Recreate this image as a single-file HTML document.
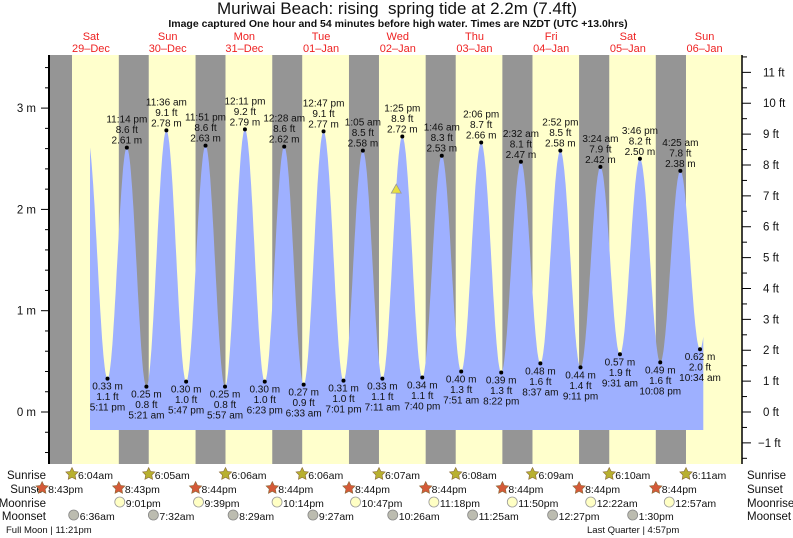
<!DOCTYPE html>
<html><head><meta charset="utf-8"><style>
html,body{margin:0;padding:0;background:#fff;width:793px;height:538px;overflow:hidden}
svg{display:block;font-family:"Liberation Sans",sans-serif}
</style></head><body>
<svg id="chart" width="793" height="538" viewBox="0 0 793 538" xmlns="http://www.w3.org/2000/svg">
<text x="397" y="14" font-size="17" text-anchor="middle" fill="#111">Muriwai Beach: rising&#160; spring tide at 2.2m (7.4ft)</text>
<text x="398" y="27" font-size="10.5" font-weight="bold" text-anchor="middle" fill="#111">Image captured One hour and 54 minutes before high water. Times are NZDT (UTC +13.0hrs)</text>
<g id="bg"></g><g id="fill"></g><g id="axes"></g><g id="labels"></g><g id="bottom"></g>
</svg>
<script>
// ---- data ----
const extremeTimes = [10.83,17.18,23.23,29.35,35.6,41.78,47.85,53.95,60.18,66.38,72.47,78.55,84.78,91.02,97.08,103.18,109.42,115.67,121.77,127.85,134.1,140.37,146.53,152.62,158.87,165.18,171.4,177.52,183.77,190.13,196.42,202.57,208.8];
const extremeHeights = [2.72,0.33,2.61,0.25,2.78,0.30,2.63,0.25,2.79,0.30,2.62,0.27,2.77,0.31,2.58,0.33,2.72,0.34,2.53,0.40,2.66,0.39,2.47,0.48,2.58,0.44,2.42,0.57,2.50,0.49,2.38,0.62,2.5];
const extremeLabels = ["","5:11 pm","11:14 pm","5:21 am","11:36 am","5:47 pm","11:51 pm","5:57 am","12:11 pm","6:23 pm","12:28 am","6:33 am","12:47 pm","7:01 pm","1:05 am","7:11 am","1:25 pm","7:40 pm","1:46 am","7:51 am","2:06 pm","8:22 pm","2:32 am","8:37 am","2:52 pm","9:11 pm","3:24 am","9:31 am","3:46 pm","10:08 pm","4:25 am","10:34 am",""];
const dayNames = ["Sat","Sun","Mon","Tue","Wed","Thu","Fri","Sat","Sun"];
const dayDates = ["29\u2013Dec","30\u2013Dec","31\u2013Dec","01\u2013Jan","02\u2013Jan","03\u2013Jan","04\u2013Jan","05\u2013Jan","06\u2013Jan"];
const sunriseTimes = [6.07,30.08,54.1,78.1,102.12,126.13,150.15,174.17,198.18];
const sunriseLabels = ["6:04am","6:05am","6:06am","6:06am","6:07am","6:08am","6:09am","6:10am","6:11am"];
const sunsetTimes = [-3.28,20.72,44.73,68.73,92.73,116.73,140.73,164.73,188.73];
const sunsetLabels = ["8:43pm","8:43pm","8:44pm","8:44pm","8:44pm","8:44pm","8:44pm","8:44pm","8:44pm"];
const moonriseTimes = [21.02,45.65,70.23,94.78,119.3,143.83,168.37,192.95];
const moonriseLabels = ["9:01pm","9:39pm","10:14pm","10:47pm","11:18pm","11:50pm","12:22am","12:57am"];
const moonsetTimes = [6.6,31.53,56.48,81.45,106.43,131.42,156.45,181.5];
const moonsetLabels = ["6:36am","7:32am","8:29am","9:27am","10:26am","11:25am","12:27pm","1:30pm"];
const mTicks = [0,1,2,3];
const ftTicks = [-1,0,1,2,3,4,5,6,7,8,9,10,11];
const nowTime = 107.52, nowHeight = 2.2;
const fillStart = 11.7, fillEnd = 203.6;

// ---- scales ----
const X0=49, X1=742, Y0=55, Y1=464, FILLBOT=430;
const xs = t => 52.6 + t*3.196;
const ys = h => 412 - h*101.3;
const NS="http://www.w3.org/2000/svg";
function mk(tag, parent, attrs){const e=document.createElementNS(NS,tag);for(const k in attrs)e.setAttribute(k,attrs[k]);document.getElementById(parent).appendChild(e);return e;}
function txt(parent,x,y,s,size,anchor,fill,extra){const e=mk('text',parent,Object.assign({x:x,y:y,'font-size':size,'text-anchor':anchor||'start',fill:fill||'#111'},extra||{}));e.textContent=s;return e;}

// background
let r=mk('rect','bg',{x:X0,y:Y0,width:X1-X0,height:Y1-Y0,fill:'#ffffcc'});


for(let i=0;i<sunsetTimes.length;i++){
  const a=Math.max(X0,xs(sunsetTimes[i])), b=Math.min(X1,xs(sunriseTimes[i]));
  if(b>a){const n=mk('rect','bg',{x:a,y:Y0,width:b-a,height:Y1-Y0,fill:'#959595'});
  
  }
}
// tide curve
function tide(t){
  for(let i=0;i<extremeTimes.length-1;i++){
    if(t>=extremeTimes[i]&&t<=extremeTimes[i+1]){
      const f=(t-extremeTimes[i])/(extremeTimes[i+1]-extremeTimes[i]);
      return extremeHeights[i]+(extremeHeights[i+1]-extremeHeights[i])*(1-Math.cos(Math.PI*f))/2;
    }
  }
  return extremeHeights[0];
}
let d='M'+xs(fillStart).toFixed(1)+','+FILLBOT;
for(let t=fillStart;t<=fillEnd+0.001;t+=0.2){d+=' L'+xs(t).toFixed(1)+','+ys(tide(t)).toFixed(1);}
d+=' L'+xs(fillEnd).toFixed(1)+','+ys(tide(fillEnd)).toFixed(1)+' L'+xs(fillEnd).toFixed(1)+','+FILLBOT+' Z';
const p=mk('path','fill',{d:d,fill:'#9eb0ff'});



// axes
const la=mk('line','axes',{x1:X0,y1:Y0,x2:X0,y2:Y1,stroke:'#000','stroke-width':2});


const ra=mk('line','axes',{x1:X1,y1:Y0,x2:X1,y2:Y1,stroke:'#000','stroke-width':1.5});


for(let h=-0.4;h<=3.41;h+=0.2){
  const y=ys(h); if(y<Y0||y>Y1)continue;
  const major=Math.abs(h-Math.round(h))<0.01;
  mk('line','axes',{x1:major?41:45,y1:y,x2:X0,y2:y,stroke:'#000','stroke-width':1});
}
mTicks.forEach(m=>{const t=txt('axes',36,ys(m)+4,m+' m',11.5,'end','#111');
  
  });
for(let f=-1.5;f<=11.6;f+=0.5){
  const y=ys(f*0.3048); if(y<Y0||y>Y1)continue;
  const major=Math.abs(f-Math.round(f))<0.01;
  mk('line','axes',{x1:X1,y1:y,x2:X1+(major?9:5),y2:y,stroke:'#000','stroke-width':1});
}
ftTicks.forEach(f=>{const t=txt('axes',f<0?758:763,ys(f*0.3048)+4,(f<0?'\u22121':f)+' ft',11.5,'start','#111');
  
  });

// day labels
dayNames.forEach((n,i)=>{
  const cx=xs(i*24+12);
  const a=txt('labels',cx,40,n,11,'middle','#ee2222');
  
  
  const b=txt('labels',cx,52,dayDates[i],11,'middle','#ee2222');
  
  
});

// extreme labels
for(let i=1;i<extremeTimes.length-1;i++){
  const x=xs(extremeTimes[i]), y=ys(extremeHeights[i]);
  const h=extremeHeights[i];
  const dot=mk('circle','labels',{cx:x,cy:y,r:2,fill:'#000'});
  
  
  const mS=h.toFixed(2)+' m', fS=(h*3.28084).toFixed(1)+' ft', tS=extremeLabels[i];
  const high = i%2===0 || h>1.5;
  let lines = high ? [tS,fS,mS] : [mS,fS,tS];
  let base = high ? y-25 : y+11;
  const g=mk('g','labels',{});
  
  
  lines.forEach((s,k)=>{const e=document.createElementNS(NS,'text');
    e.setAttribute('x',x);e.setAttribute('y',base+k*10.5);e.setAttribute('font-size',10);
    e.setAttribute('text-anchor','middle');e.setAttribute('fill','#111');e.textContent=s;g.appendChild(e);});
}
// now marker
const nx=xs(nowTime), ny=ys(nowHeight);
const tri=mk('polygon','labels',{points:(nx-5)+','+(ny+4)+' '+(nx+5)+','+(ny+4)+' '+nx+','+(ny-5),fill:'#e8e040',stroke:'#999','stroke-width':0.8});



// bottom rows
const rows=[["Sunrise",475],["Sunset",489],["Moonrise",503],["Moonset",516]];
rows.forEach(([n,y])=>{
  const a=txt('bottom',46,y+4,n,11.5,'end','#111');
  
  
  const b=txt('bottom',747,y+4,n,11.5,'start','#111');
  
  
});
function star(cx,cy,R,fill){let pts=[];for(let k=0;k<10;k++){const rr=k%2?R*0.5:R;const a=-Math.PI/2+k*Math.PI/5;pts.push((cx+rr*Math.cos(a)).toFixed(1)+','+(cy+rr*Math.sin(a)).toFixed(1));}
  return mk('polygon','bottom',{points:pts.join(' '),fill:fill,stroke:'#8a6a3a','stroke-width':0.6});}
sunriseTimes.forEach((t,i)=>{const x=xs(t);
  const s=star(x,474,6.5,'#b8b030');
  
  
  const e=txt('bottom',x+6,479,sunriseLabels[i],10.5,'start','#111');
  
  });
sunsetTimes.forEach((t,i)=>{const x=xs(t);
  const s=star(x,488,6.5,'#d45a38');
  
  
  const e=txt('bottom',x+6,493,sunsetLabels[i],10.5,'start','#111');
  
  });
moonriseTimes.forEach((t,i)=>{const x=xs(t);
  const c=mk('circle','bottom',{cx:x,cy:502,r:5,fill:'#ffffc4',stroke:'#999','stroke-width':0.8});
  
  
  const e=txt('bottom',x+6,507,moonriseLabels[i],10.5,'start','#111');
  
  });
moonsetTimes.forEach((t,i)=>{const x=xs(t);
  const c=mk('circle','bottom',{cx:x,cy:515,r:5,fill:'#bcbcb0',stroke:'#888','stroke-width':0.8});
  
  
  const e=txt('bottom',x+6,520,moonsetLabels[i],10.5,'start','#111');
  
  });
const fm=txt('bottom',6,533,'Full Moon | 11:21pm',9.5,'start','#111');


const lq=txt('bottom',587,533,'Last Quarter | 4:57pm',9.5,'start','#111');


</script>
</body></html>
